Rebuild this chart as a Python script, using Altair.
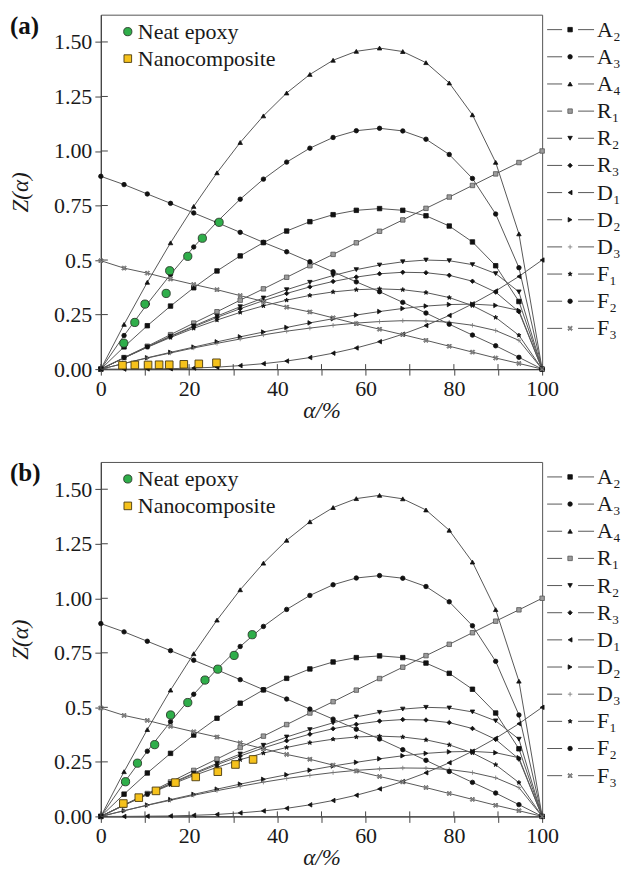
import altair as alt
import pandas as pd

# Conversion grid (%) shared by all master curves
ALPHA = [0, 5.26, 10.53, 15.79, 21.05, 26.32, 31.58, 36.84, 42.11, 47.37,
         52.63, 57.89, 63.16, 68.42, 73.68, 78.95, 84.21, 89.47, 94.74, 100]

# Theoretical Z(alpha) master curves
A2 = [0, 0.102, 0.199, 0.289, 0.373, 0.450, 0.519, 0.580, 0.633, 0.676,
      0.708, 0.728, 0.736, 0.728, 0.703, 0.656, 0.583, 0.474, 0.310, 0]
A3 = [0, 0.154, 0.299, 0.434, 0.560, 0.675, 0.779, 0.871, 0.949, 1.013,
      1.062, 1.093, 1.104, 1.092, 1.054, 0.984, 0.874, 0.711, 0.465, 0]
A4 = [0, 0.205, 0.398, 0.579, 0.746, 0.900, 1.039, 1.161, 1.266, 1.351,
      1.416, 1.457, 1.472, 1.456, 1.405, 1.312, 1.166, 0.948, 0.620, 0]
R1 = [0, 0.053, 0.105, 0.158, 0.211, 0.263, 0.316, 0.368, 0.421, 0.474,
      0.526, 0.579, 0.632, 0.684, 0.737, 0.789, 0.842, 0.895, 0.947, 1.0]
R2 = [0, 0.052, 0.102, 0.151, 0.198, 0.243, 0.286, 0.326, 0.364, 0.398,
      0.429, 0.456, 0.477, 0.492, 0.500, 0.497, 0.479, 0.438, 0.354, 0]
R3 = [0, 0.052, 0.101, 0.149, 0.194, 0.237, 0.277, 0.314, 0.347, 0.377,
      0.402, 0.422, 0.437, 0.444, 0.442, 0.430, 0.403, 0.353, 0.263, 0]
D1 = [0, 0.000, 0.001, 0.002, 0.005, 0.009, 0.016, 0.025, 0.037, 0.053,
      0.073, 0.097, 0.126, 0.160, 0.200, 0.246, 0.299, 0.358, 0.425, 0.5]
D2 = [0, 0.026, 0.052, 0.077, 0.101, 0.125, 0.148, 0.170, 0.191, 0.212,
      0.231, 0.248, 0.264, 0.278, 0.289, 0.296, 0.298, 0.292, 0.269, 0]
D3 = [0, 0.026, 0.051, 0.074, 0.097, 0.118, 0.138, 0.157, 0.174, 0.188,
      0.201, 0.211, 0.218, 0.222, 0.221, 0.215, 0.201, 0.177, 0.132, 0]
F1 = [0, 0.051, 0.100, 0.145, 0.187, 0.225, 0.260, 0.290, 0.316, 0.338,
      0.354, 0.364, 0.368, 0.364, 0.351, 0.328, 0.291, 0.237, 0.155, 0]
F2 = [0.884, 0.846, 0.803, 0.760, 0.716, 0.672, 0.627, 0.581, 0.538, 0.492,
      0.446, 0.400, 0.355, 0.306, 0.257, 0.206, 0.156, 0.107, 0.054, 0]
F3 = [0.497, 0.463, 0.440, 0.413, 0.388, 0.364, 0.337, 0.310, 0.284, 0.262,
      0.235, 0.208, 0.183, 0.158, 0.132, 0.105, 0.078, 0.051, 0.026, 0]

MODELS = ["A2", "A3", "A4", "R1", "R2", "R3", "D1", "D2", "D3", "F1", "F2", "F3"]
MODEL_LABELS = ["A₂", "A₃", "A₄", "R₁", "R₂", "R₃", "D₁", "D₂", "D₃", "F₁", "F₂", "F₃"]
CURVES = [A2, A3, A4, R1, R2, R3, D1, D2, D3, F1, F2, F3]

# Experimental points, panel (a)
NEAT_A_ALPHA = [5.2, 7.7, 10.0, 14.8, 15.6, 19.7, 23.0, 26.8]
NEAT_A_Z = [0.119, 0.214, 0.298, 0.347, 0.451, 0.517, 0.600, 0.673]
NANO_A_ALPHA = [4.9, 7.7, 10.7, 13.2, 15.5, 18.8, 22.2, 26.2]
NANO_A_Z = [0.018, 0.019, 0.019, 0.020, 0.020, 0.022, 0.024, 0.029]

# Experimental points, panel (b)
NEAT_B_ALPHA = [5.6, 8.3, 12.2, 15.8, 19.7, 23.6, 26.5, 30.2, 34.3]
NEAT_B_Z = [0.159, 0.244, 0.329, 0.465, 0.522, 0.625, 0.675, 0.738, 0.833]
NANO_B_ALPHA = [5.1, 8.6, 12.5, 16.9, 21.5, 26.5, 30.5, 34.5]
NANO_B_Z = [0.059, 0.086, 0.117, 0.155, 0.181, 0.205, 0.238, 0.261]

X_TICKS = [0, 10, 20, 30, 40, 50, 60, 70, 80, 90, 100]
Y_TICKS = [0, 0.25, 0.5, 0.75, 1.0, 1.25, 1.5]

# ---- marker styling -------------------------------------------------------
STAR = ("M0,-1L0.235,-0.324L0.951,-0.309L0.38,0.124L0.588,0.809L0,0.4"
        "L-0.588,0.809L-0.38,0.124L-0.951,-0.309L-0.235,-0.324Z")
PLUS = "M-1,0H1M0,-1V1"
XMARK = ("M-1,-0.6L-0.6,-1L0,-0.4L0.6,-1L1,-0.6L0.4,0L1,0.6L0.6,1L0,0.4"
         "L-0.6,1L-1,0.6L-0.4,0Z")
SHAPES = ["square", "circle", "triangle-up", "square", "triangle-down", "diamond",
          "triangle-left", "triangle-right", PLUS, STAR, "circle", XMARK]
SIZES = [20, 20, 26, 28, 26, 26, 26, 26, 34, 38, 28, 30]
FILLS = ["#111", "#111", "#111", "#9c9c9c", "#111", "#111",
         "#111", "#111", "#888", "#111", "#111", "#8c8c8c"]
STROKES = ["#111", "#111", "#111", "#555", "#111", "#111",
           "#111", "#111", "#7a7a7a", "#111", "#111", "#5e5e5e"]

LINE_GRAY = "#585858"
SERIF = "'Liberation Serif', 'Times New Roman', Times, serif"
W, H = 442, 355
Y_DOMAIN = [0, 1.625]

curves_df = pd.DataFrame(
    [{"model": m, "alpha": a, "Z": z}
     for m, vals in zip(MODELS, CURVES) for a, z in zip(ALPHA, vals)]
)
legend_df = pd.DataFrame({"model": MODELS, "label": MODEL_LABELS,
                          "row": list(range(len(MODELS)))})

shape_enc = alt.Shape("model:N", scale=alt.Scale(domain=MODELS, range=SHAPES), legend=None)
fill_enc = alt.Fill("model:N", scale=alt.Scale(domain=MODELS, range=FILLS), legend=None)
stroke_enc = alt.Stroke("model:N", scale=alt.Scale(domain=MODELS, range=STROKES), legend=None)
size_enc = alt.Size("model:N", scale=alt.Scale(domain=MODELS, range=SIZES), legend=None)

x_axis = alt.Axis(values=X_TICKS, title="α/%", labelFlush=False, titlePadding=0,
                  labelExpr="datum.value % 20 == 0 ? datum.label : ''")
y_axis = alt.Axis(values=Y_TICKS, title="Z(α)", labelFlush=False, titlePadding=21,
                  labelExpr="datum.value == 0.5 ? '0.5' : format(datum.value, '.2f')")


def xq(field):
    return alt.X(field, type="quantitative", axis=x_axis,
                 scale=alt.Scale(domain=[0, 100], nice=False, zero=False))


def yq(field):
    return alt.Y(field, type="quantitative", axis=y_axis,
                 scale=alt.Scale(domain=Y_DOMAIN, nice=False, zero=False))


def panel(tag, neat_alpha, neat_z, nano_alpha, nano_z):
    base = alt.Chart(curves_df)
    lines = base.mark_line(color=LINE_GRAY, strokeWidth=1).encode(
        x=xq("alpha"), y=yq("Z"), detail="model:N", order="alpha:Q")
    pts = base.mark_point(opacity=1, strokeWidth=0.8).encode(
        x=xq("alpha"), y=yq("Z"), shape=shape_enc, fill=fill_enc,
        stroke=stroke_enc, size=size_enc)

    neat = alt.Chart(pd.DataFrame({"alpha": neat_alpha, "Z": neat_z})).mark_point(
        shape="circle", size=68, fill="#2fae4a", stroke="#2a3a2a", strokeWidth=0.9,
        opacity=1).encode(x=xq("alpha"), y=yq("Z"))
    nano = alt.Chart(pd.DataFrame({"alpha": nano_alpha, "Z": nano_z})).mark_point(
        shape="square", size=58, fill="#f6c21c", stroke="#4a3a10", strokeWidth=0.9,
        opacity=1).encode(x=xq("alpha"), y=yq("Z"))

    # inner halves of the crossing tick marks
    xt_in = alt.Chart(pd.DataFrame({"v": X_TICKS})).mark_rule(
        color="#444", strokeWidth=1).encode(x=xq("v"), y=alt.value(H - 5), y2=alt.value(H))
    yt_in = alt.Chart(pd.DataFrame({"v": Y_TICKS})).mark_rule(
        color="#444", strokeWidth=1).encode(y=yq("v"), x=alt.value(0), x2=alt.value(7))

    inner = alt.layer(lines, pts, xt_in, yt_in, nano, neat)

    # model key at the right of the frame
    leg_y = alt.Y("row:Q", axis=None,
                  scale=alt.Scale(domain=[-0.551, 12.50], reverse=True, nice=False, zero=False))
    lbase = alt.Chart(legend_df)
    seg1 = lbase.mark_rule(color=LINE_GRAY, strokeWidth=1).encode(
        x=alt.value(447), x2=alt.value(462), y=leg_y)
    seg2 = lbase.mark_rule(color=LINE_GRAY, strokeWidth=1).encode(
        x=alt.value(478), x2=alt.value(494), y=leg_y)
    lpts = lbase.mark_point(opacity=1, strokeWidth=0.8).encode(
        x=alt.value(470), y=leg_y, shape=shape_enc, fill=fill_enc,
        stroke=stroke_enc, size=size_enc)
    ltxt = lbase.mark_text(align="left", baseline="middle", font=SERIF,
                           fontSize=22, color="#1a1a1a").encode(
        x=alt.value(497), y=leg_y, text="label:N")

    # series key inside the frame
    one = pd.DataFrame({"t": ["Neat epoxy"]})
    two = pd.DataFrame({"t": ["Nanocomposite"]})
    key_neat = alt.Chart(one).mark_point(shape="circle", size=68, fill="#2fae4a",
                                         stroke="#2a3a2a", strokeWidth=0.9, opacity=1).encode(
        x=alt.value(27), y=alt.value(17))
    key_nano = alt.Chart(two).mark_point(shape="square", size=58, fill="#f6c21c",
                                         stroke="#4a3a10", strokeWidth=0.9, opacity=1).encode(
        x=alt.value(27), y=alt.value(44))
    key_t1 = alt.Chart(one).mark_text(align="left", baseline="middle", font=SERIF,
                                      fontSize=22, color="#1a1a1a").encode(
        x=alt.value(37), y=alt.value(17), text="t:N")
    key_t2 = alt.Chart(two).mark_text(align="left", baseline="middle", font=SERIF,
                                      fontSize=22, color="#1a1a1a").encode(
        x=alt.value(37), y=alt.value(44), text="t:N")
    tag_t = alt.Chart(pd.DataFrame({"t": [tag]})).mark_text(
        align="left", baseline="middle", font=SERIF, fontSize=25, fontWeight="bold",
        color="#111").encode(x=alt.value(-91), y=alt.value(11), text="t:N")

    outer = alt.layer(seg1, seg2, lpts, ltxt, key_neat, key_nano, key_t1, key_t2, tag_t)

    return alt.layer(inner, outer).resolve_scale(y="independent").properties(
        width=W, height=H)


chart = alt.vconcat(
    panel("(a)", NEAT_A_ALPHA, NEAT_A_Z, NANO_A_ALPHA, NANO_A_Z),
    panel("(b)", NEAT_B_ALPHA, NEAT_B_Z, NANO_B_ALPHA, NANO_B_Z),
    spacing=37,
).properties(
    padding={"left": 9, "top": 12, "right": 5, "bottom": 5},
    background="white",
).configure_view(
    stroke="#555", strokeWidth=1
).configure_axis(
    grid=False, domainColor="#444", domainWidth=1.2, tickColor="#444", tickSize=6,
    labelFont=SERIF, labelFontSize=22, labelColor="#1a1a1a", labelPadding=3,
    titleFont=SERIF, titleFontSize=23, titleFontStyle="italic", titleFontWeight="normal",
    titleColor="#1a1a1a",
)

chart.save("out.html", embed_options={"renderer": "svg", "actions": False})
